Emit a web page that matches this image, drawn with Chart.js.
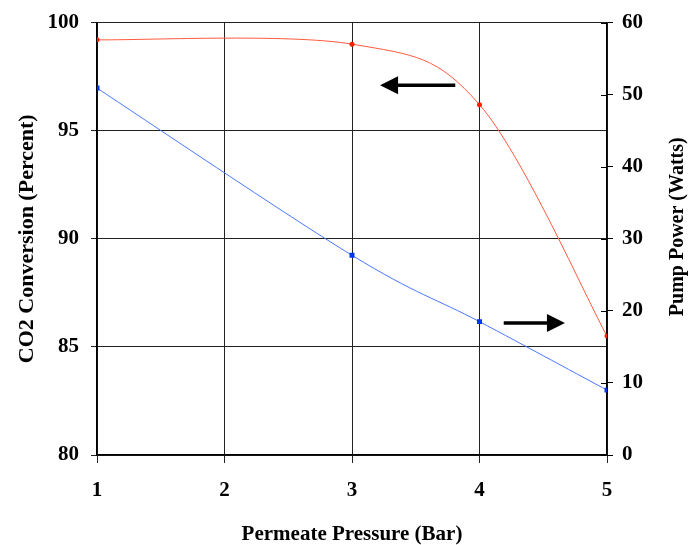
<!DOCTYPE html>
<html>
<head>
<meta charset="utf-8">
<script src="https://cdn.jsdelivr.net/npm/chart.js@4.4.0/dist/chart.umd.min.js"></script>
<style>
  html, body { margin: 0; padding: 0; background: #fff; }
</style>
</head>
<body>
<canvas id="chart" width="690" height="545"></canvas>
<script>
// permeate pressure (bar)
var pressure = [1, 3, 4, 5];
// CO2 conversion in percent - left axis
var conversion = [99.2, 99.0, 96.2, 85.5];
// pump power in watts - right axis
var pumpPower = [50.9, 27.7, 18.5, 9.0];

var xTicks = [1, 2, 3, 4, 5];
var leftTicks = [80, 85, 90, 95, 100];
var rightTicks = [0, 10, 20, 30, 40, 50, 60];

// arrow annotations, in data units of x / left axis
var arrows = [
  { x0: 3.81, x1: 3.22, y: 97.1 },
  { x0: 4.19, x1: 4.67, y: 86.1 }
];

var serif = "'Liberation Serif', 'Times New Roman', serif";
Chart.defaults.font.family = serif;
Chart.defaults.color = "#000";

function toPts(ys) {
  return pressure.map(function (x, i) { return { x: x, y: ys[i] }; });
}

// excel style smoothing (catmull-rom, 1/6 of neighbour span)
var excelSmooth = {
  id: "excelSmooth",
  beforeDatasetDraw: function (chart, args) {
    var meta = args.meta;
    var line = meta.dataset;
    if (!line) return;
    line.updateControlPoints(chart.chartArea, meta.indexAxis);
    var pts = meta.data;
    for (var i = 0; i < pts.length; i++) {
      var p = pts[i];
      var prev = pts[i - 1] || p;
      var next = pts[i + 1] || p;
      var dx = (next.x - prev.x) / 6;
      var dy = (next.y - prev.y) / 6;
      p.cp1x = p.x - dx; p.cp1y = p.y - dy;
      p.cp2x = p.x + dx; p.cp2y = p.y + dy;
    }
    line._path = undefined;
  }
};

var extras = {
  id: "extras",
  afterDatasetsDraw: function (chart) {
    var ctx = chart.ctx;
    var sx = chart.scales.x, sy = chart.scales.y, s2 = chart.scales.y2;
    ctx.save();
    ctx.strokeStyle = "#000";
    ctx.fillStyle = "#000";
    ctx.lineWidth = 3.5;
    arrows.forEach(function (a) {
      var px0 = sx.getPixelForValue(a.x0);
      var px1 = sx.getPixelForValue(a.x1);
      var py = sy.getPixelForValue(a.y);
      var dir = px1 > px0 ? 1 : -1;
      var base = px1 - dir * 18;
      ctx.beginPath();
      ctx.moveTo(px0, py);
      ctx.lineTo(base + dir * 2, py);
      ctx.stroke();
      ctx.beginPath();
      ctx.moveTo(px1, py);
      ctx.lineTo(base, py - 9);
      ctx.lineTo(base, py + 9);
      ctx.closePath();
      ctx.fill();
    });
    // right axis tick marks cross the axis line
    ctx.lineWidth = 1;
    rightTicks.forEach(function (v) {
      var py = Math.round(s2.getPixelForValue(v)) + 0.5;
      ctx.beginPath();
      ctx.moveTo(s2.left - 6, py);
      ctx.lineTo(s2.left, py);
      ctx.stroke();
    });
    // right axis title, reads bottom to top
    var ca = chart.chartArea;
    ctx.translate(678, (ca.top + ca.bottom) / 2 - 12);
    ctx.rotate(-Math.PI / 2);
    ctx.font = "bold 20px " + serif;
    ctx.textAlign = "center";
    ctx.textBaseline = "middle";
    ctx.fillText("Pump Power (Watts)", 0, 0);
    ctx.restore();
  }
};

new Chart(document.getElementById("chart"), {
  type: "line",
  data: {
    datasets: [
      {
        label: "CO2 Conversion",
        data: toPts(conversion),
        yAxisID: "y",
        borderColor: "#FF5a40",
        borderWidth: 1,
        tension: 0.3,
        pointStyle: "circle",
        pointRadius: 2.5,
        pointBackgroundColor: "#FF2000",
        pointBorderColor: "#FF2000",
        pointBorderWidth: 0
      },
      {
        label: "Pump Power",
        data: toPts(pumpPower),
        yAxisID: "y2",
        borderColor: "#4a78ff",
        borderWidth: 1,
        tension: 0.3,
        pointStyle: "rect",
        pointRadius: 3.5,
        pointBackgroundColor: "#0033FF",
        pointBorderColor: "#0033FF",
        pointBorderWidth: 0
      }
    ]
  },
  options: {
    responsive: false,
    animation: false,
    layout: { padding: { top: 21, left: 0, right: 0, bottom: 0 } },
    plugins: { legend: { display: false }, tooltip: { enabled: false } },
    scales: {
      x: {
        type: "linear",
        min: 1,
        max: 5,
        afterBuildTicks: function (s) { s.ticks = xTicks.map(function (v) { return { value: v }; }); },
        afterFit: function (s) { s.height = 90; },
        grid: { color: "#222", lineWidth: 1, tickLength: 8 },
        border: { color: "#000", width: 1.5 },
        ticks: { font: { size: 21, weight: "bold" }, padding: 15, maxRotation: 0 },
        title: {
          display: true,
          text: "Permeate Pressure (Bar)",
          font: { size: 21, weight: "bold" },
          padding: { top: 0, bottom: -2 }
        }
      },
      y: {
        position: "left",
        min: 80,
        max: 100,
        afterBuildTicks: function (s) { s.ticks = leftTicks.map(function (v) { return { value: v }; }); },
        afterFit: function (s) { s.width = 97; },
        grid: { color: "#222", lineWidth: 1, tickLength: 6 },
        border: { color: "#000", width: 1.5 },
        ticks: { font: { size: 21, weight: "bold", lineHeight: 1 }, padding: 12 },
        title: {
          display: true,
          text: "CO2 Conversion (Percent)",
          font: { size: 22, weight: "bold" },
          padding: { top: 14, bottom: 0 }
        }
      },
      y2: {
        position: "right",
        min: 0,
        max: 60,
        afterBuildTicks: function (s) { s.ticks = rightTicks.map(function (v) { return { value: v }; }); },
        afterFit: function (s) { s.width = 83; },
        grid: { drawOnChartArea: false, color: "#000", tickLength: 6 },
        border: { color: "#000", width: 1.5 },
        ticks: { font: { size: 21, weight: "bold", lineHeight: 1 }, padding: 9 }
      }
    }
  },
  plugins: [excelSmooth, extras]
});
</script>
</body>
</html>
